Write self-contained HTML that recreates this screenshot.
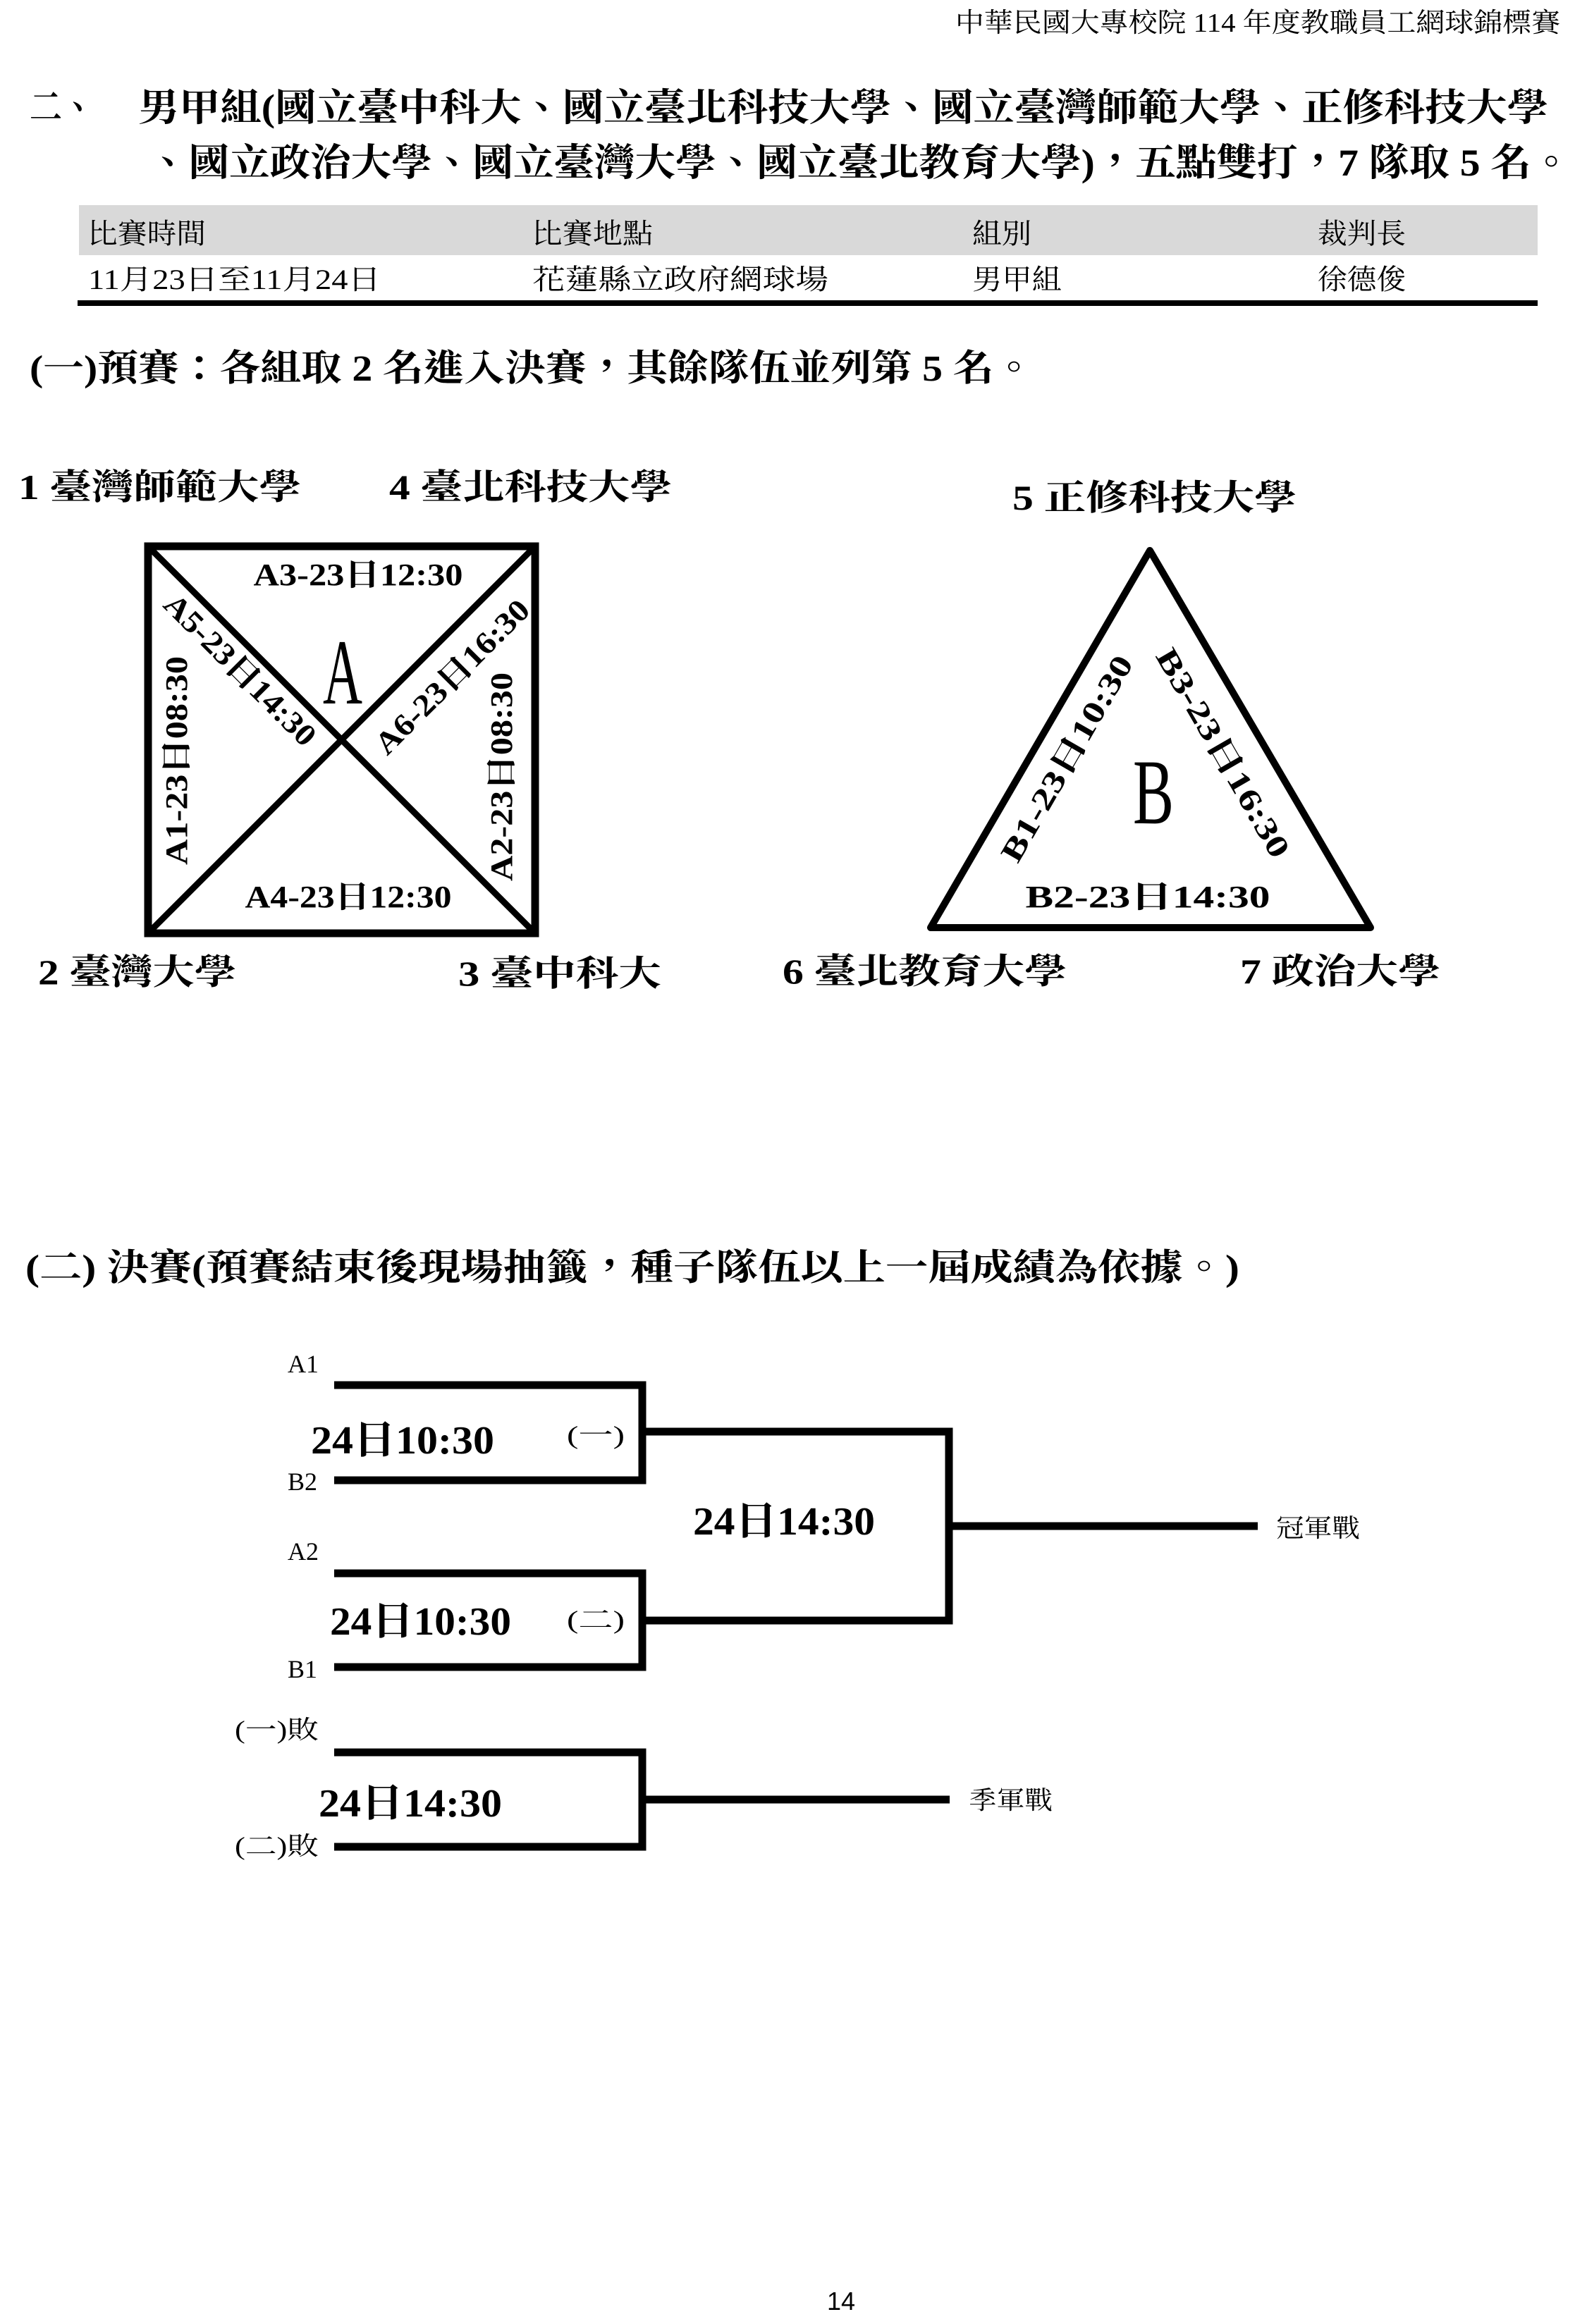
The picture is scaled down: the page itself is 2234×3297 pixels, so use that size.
<!DOCTYPE html>
<html><head><meta charset="utf-8"><style>
html,body{margin:0;padding:0;background:#fff;}
svg{display:block;}
.b{font-family:"Liberation Serif","Noto Serif CJK TC","Noto Serif CJK SC",serif;font-weight:bold;fill:#000;}
.n{font-family:"Liberation Serif","Noto Serif CJK TC","Noto Serif CJK SC",serif;font-weight:normal;fill:#000;}
</style></head><body>
<svg width="2234" height="3297" viewBox="0 0 2234 3297" xmlns="http://www.w3.org/2000/svg">
<rect width="2234" height="3297" fill="#fff"/>
<text class="n" x="1355" y="45" font-size="38" textLength="858" lengthAdjust="spacingAndGlyphs">中華民國大專校院 114 年度教職員工網球錦標賽</text>

<text class="b" x="42" y="171" font-size="54" textLength="92" lengthAdjust="spacingAndGlyphs">二、</text>
<text class="b" x="196" y="171" font-size="54" textLength="2000" lengthAdjust="spacingAndGlyphs">男甲組(國立臺中科大、國立臺北科技大學、國立臺灣師範大學、正修科技大學</text>
<text class="b" x="210" y="249" font-size="54" textLength="2019" lengthAdjust="spacingAndGlyphs">、國立政治大學、國立臺灣大學、國立臺北教育大學)，五點雙打，7 隊取 5 名。</text>

<rect x="112" y="291" width="2069" height="71" fill="#d9d9d9"/>
<g font-size="40" class="n">
<text x="125" y="345" textLength="167" lengthAdjust="spacingAndGlyphs">比賽時間</text>
<text x="755" y="345" textLength="171" lengthAdjust="spacingAndGlyphs">比賽地點</text>
<text x="1379" y="345" textLength="84" lengthAdjust="spacingAndGlyphs">組別</text>
<text x="1869" y="345" textLength="125" lengthAdjust="spacingAndGlyphs">裁判長</text>
<text x="125" y="410" textLength="415" lengthAdjust="spacingAndGlyphs">11月23日至11月24日</text>
<text x="755" y="410" textLength="420" lengthAdjust="spacingAndGlyphs">花蓮縣立政府網球場</text>
<text x="1379" y="410" textLength="127" lengthAdjust="spacingAndGlyphs">男甲組</text>
<text x="1869" y="410" textLength="125" lengthAdjust="spacingAndGlyphs">徐德俊</text>
</g>
<rect x="110" y="426" width="2071" height="8" fill="#000"/>

<text class="b" x="42" y="540" font-size="52" textLength="1425" lengthAdjust="spacingAndGlyphs">(一)預賽：各組取 2 名進入決賽，其餘隊伍並列第 5 名。</text>

<g class="b" font-size="50">
<text x="26" y="708" textLength="401" lengthAdjust="spacingAndGlyphs">1 臺灣師範大學</text>
<text x="552" y="708" textLength="401" lengthAdjust="spacingAndGlyphs">4 臺北科技大學</text>
<text x="1436" y="723" textLength="403" lengthAdjust="spacingAndGlyphs">5 正修科技大學</text>
<text x="54" y="1396" textLength="281" lengthAdjust="spacingAndGlyphs">2 臺灣大學</text>
<text x="650" y="1398" textLength="288" lengthAdjust="spacingAndGlyphs">3 臺中科大</text>
<text x="1110" y="1395" textLength="403" lengthAdjust="spacingAndGlyphs">6 臺北教育大學</text>
<text x="1759" y="1395" textLength="284" lengthAdjust="spacingAndGlyphs">7 政治大學</text>
</g>

<!-- Group A square -->
<rect x="210" y="775" width="549" height="549" fill="none" stroke="#000" stroke-width="11"/>
<line x1="214" y1="779" x2="755" y2="1320" stroke="#000" stroke-width="9"/>
<line x1="755" y1="779" x2="214" y2="1320" stroke="#000" stroke-width="9"/>
<g class="b" font-size="44" text-anchor="middle">
<text x="508" y="830" textLength="297" lengthAdjust="spacingAndGlyphs">A3-23日12:30</text>
<text x="494" y="1287" textLength="293" lengthAdjust="spacingAndGlyphs">A4-23日12:30</text>
<g transform="translate(250,1079) rotate(-90)"><text x="0" y="15" textLength="296" lengthAdjust="spacingAndGlyphs">A1-23日08:30</text></g>
<g transform="translate(711,1102) rotate(-90)"><text x="0" y="15" textLength="296" lengthAdjust="spacingAndGlyphs">A2-23日08:30</text></g>
<g transform="translate(341,950) rotate(45)"><text x="0" y="15" textLength="285" lengthAdjust="spacingAndGlyphs">A5-23日14:30</text></g>
<g transform="translate(641,960) rotate(-45)"><text x="0" y="15" textLength="290" lengthAdjust="spacingAndGlyphs">A6-23日16:30</text></g>
</g>
<text class="n" x="486" y="998" font-size="132" text-anchor="middle" textLength="56" lengthAdjust="spacingAndGlyphs">A</text>

<!-- Group B triangle -->
<polygon points="1631,781 1320,1316 1944,1316" fill="none" stroke="#000" stroke-width="10" stroke-linejoin="round"/>
<g class="b" font-size="44" text-anchor="middle">
<text x="1628" y="1287" textLength="347" lengthAdjust="spacingAndGlyphs">B2-23日14:30</text>
<g transform="translate(1513,1076) rotate(-60)"><text x="0" y="15" textLength="330" lengthAdjust="spacingAndGlyphs">B1-23日10:30</text></g>
<g transform="translate(1735,1068) rotate(60)"><text x="0" y="15" textLength="335" lengthAdjust="spacingAndGlyphs">B3-23日16:30</text></g>
</g>
<text class="n" x="1636" y="1168" font-size="132" text-anchor="middle" textLength="58" lengthAdjust="spacingAndGlyphs">B</text>

<text class="b" x="36" y="1816" font-size="52" textLength="1722" lengthAdjust="spacingAndGlyphs">(二) 決賽(預賽結束後現場抽籤，種子隊伍以上一屆成績為依據。)</text>

<!-- Bracket -->
<g fill="none" stroke="#000" stroke-width="11" stroke-linecap="butt">
<polyline points="474,1965 911,1965 911,2100 474,2100"/>
<polyline points="916,2031 1346,2031 1346,2299 916,2299"/>
<polyline points="474,2232 911,2232 911,2365 474,2365"/>
<line x1="1346" y1="2165" x2="1784" y2="2165"/>
<polyline points="474,2486 911,2486 911,2620 474,2620"/>
<line x1="911" y1="2553" x2="1347" y2="2553"/>
</g>
<g class="n" font-size="36">
<text x="408" y="1947">A1</text>
<text x="408" y="2114">B2</text>
<text x="408" y="2213">A2</text>
<text x="408" y="2380">B1</text>
<text x="333" y="2466" textLength="119" lengthAdjust="spacingAndGlyphs">(一)敗</text>
<text x="333" y="2631" textLength="119" lengthAdjust="spacingAndGlyphs">(二)敗</text>
<text x="1810" y="2180" textLength="119" lengthAdjust="spacingAndGlyphs">冠軍戰</text>
<text x="1374" y="2566" textLength="119" lengthAdjust="spacingAndGlyphs">季軍戰</text>
<text x="804" y="2048" textLength="82" lengthAdjust="spacingAndGlyphs">(一)</text>
<text x="804" y="2310" textLength="82" lengthAdjust="spacingAndGlyphs">(二)</text>
</g>
<g class="b" font-size="56">
<text x="441" y="2062" textLength="260" lengthAdjust="spacingAndGlyphs">24日10:30</text>
<text x="468" y="2319" textLength="257" lengthAdjust="spacingAndGlyphs">24日10:30</text>
<text x="983" y="2177" textLength="258" lengthAdjust="spacingAndGlyphs">24日14:30</text>
<text x="452" y="2577" textLength="260" lengthAdjust="spacingAndGlyphs">24日14:30</text>
</g>

<text x="1173" y="3277" font-family="Liberation Sans, sans-serif" font-size="36" fill="#000">14</text>
</svg>
</body></html>
